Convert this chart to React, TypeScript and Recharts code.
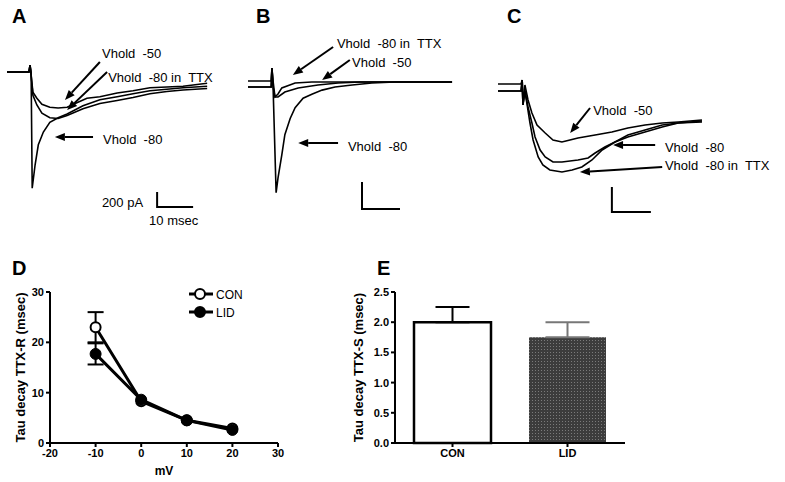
import React from 'react';
import {
  LineChart,
  Line,
  XAxis,
  YAxis,
  ReferenceLine,
  ReferenceDot,
  ErrorBar,
  BarChart,
  Bar,
  Cell,
} from 'recharts';

type Pt = [number, number];

// traces: [time (ms), current (pA)]
const traceA80: Pt[] = [
  [0, 0], [6.1, 0], [6.4, 90], [6.7, 0], [7.0, -1550], [7.8, -1240], [8.7, -970],
  [10.1, -800], [11.9, -670], [14.2, -610], [16.7, -560], [21.1, -450], [25.8, -370],
  [30.6, -330], [35, -290], [39.7, -250], [44.4, -230], [48.9, -210], [55.6, -190],
];
const traceA80ttx: Pt[] = [
  [0, 0], [6.1, 0], [6.4, 90], [6.7, -40], [7.2, -310], [8.3, -440], [9.7, -550],
  [11.9, -610], [14.2, -620], [16.7, -580], [21.1, -490], [25.8, -420], [30.6, -380],
  [35, -340], [39.7, -290], [44.4, -260], [48.9, -240], [55.6, -220],
];
const traceA50: Pt[] = [
  [0, 0], [6.1, 0], [6.4, 90], [6.7, -40], [7.2, -270], [8.3, -350], [9.7, -430],
  [11.9, -470], [14.2, -480], [16.7, -470], [19.4, -410], [22.2, -350], [25.8, -330],
  [30.6, -280], [35, -250], [39.7, -210], [44.4, -200], [48.9, -190], [55.6, -150],
];

const traceB80: Pt[] = [
  [0, -37], [6.1, -37], [6.3, 104], [6.6, -37], [7.4, -820], [7.9, -710], [8.9, -540],
  [9.7, -390], [11.1, -270], [12.4, -190], [14.5, -120], [16.8, -90], [19.5, -60],
  [22.9, -37], [27.4, -22], [32.6, -7], [38.7, 0], [53.7, 0],
];
const traceB80ttx: Pt[] = [
  [0, -37], [6.1, -37], [6.3, 104], [6.6, -37], [7.1, -111], [7.9, -89], [8.9, -44],
  [12.4, -7], [16.8, 0], [53.7, 0],
];
const traceB50: Pt[] = [
  [0, 7], [6.1, 7], [6.3, 104], [6.6, 7], [7.1, -111], [7.9, -111], [9.7, -74],
  [13.2, -44], [18.4, -22], [23.7, -7], [29.5, 0], [53.7, 0],
];

const traceC50: Pt[] = [
  [0, 0], [5.9, 0], [6.2, 32], [6.4, -168], [6.9, -8], [7.7, -128], [8.7, -232],
  [10, -328], [12.1, -392], [14.1, -448], [16.4, -464], [20.5, -432], [24.9, -408],
  [29.2, -384], [33.3, -352], [37.7, -328], [42.1, -312], [46.2, -304], [52.3, -288],
];
const traceC80: Pt[] = [
  [0, -56], [5.9, -56], [6.2, 32], [6.4, -168], [6.9, -56], [7.7, -184], [8.7, -312],
  [9.5, -424], [10.8, -528], [12.1, -584], [14.1, -624], [16.4, -624], [20.5, -608],
  [23.1, -592], [24.9, -552], [27.4, -504], [30, -464], [33.3, -424], [37.7, -384],
  [42.1, -344], [46.2, -312], [52.3, -304],
];
const traceC80ttx: Pt[] = [
  [0, -56], [5.9, -56], [6.2, 32], [6.4, -168], [6.9, -56], [7.4, -152], [8.2, -312],
  [9, -448], [10.3, -584], [11.5, -648], [13.3, -688], [16.4, -704], [19, -688],
  [21.5, -664], [24.1, -608], [26.7, -528], [30, -464], [33.3, -408], [37.7, -368],
  [42.1, -328], [46.2, -312], [52.3, -296],
];

// scale bars: corner (ms, pA) plus lengths
const scaleA = { t: 41.7, i: -1800, ms: 10, pA: 200 };
const scaleB = { t: 30, i: -941, ms: 10, pA: 200 };
const scaleC = { t: 29.2, i: -1024, ms: 10, pA: 200 };

type Note = { text: string; anchor?: 'start' | 'middle' | 'end'; at: Pt; from?: Pt; to?: Pt };

const notesA: Note[] = [
  { text: 'Vhold\u00a0 -50', at: [26.4, 253], from: [25.8, 133], to: [16.1, -373] },
  { text: 'Vhold\u00a0 -80 in\u00a0 TTX', at: [28.1, -67], from: [27.8, 0], to: [16.7, -507] },
  { text: 'Vhold\u00a0 -80', at: [26.7, -893], from: [23.9, -867], to: [13.3, -867] },
  { text: '200 pA', anchor: 'end', at: [37.8, -1733] },
  { text: '10 msec', anchor: 'middle', at: [46.3, -1973] },
];
const notesB: Note[] = [
  { text: 'Vhold\u00a0 -80 in\u00a0 TTX', at: [23.4, 289], from: [22.4, 259], to: [11.8, 52] },
  { text: 'Vhold\u00a0 -50', at: [27.4, 148], from: [26.8, 163], to: [19.5, 15] },
  { text: 'Vhold\u00a0 -80', at: [26.3, -474], from: [23.7, -452], to: [13.2, -452] },
];
const notesC: Note[] = [
  { text: 'Vhold\u00a0 -50', at: [24.4, -208], from: [23.6, -192], to: [18.5, -392] },
  { text: 'Vhold\u00a0 -80', at: [42.8, -504], from: [40.3, -488], to: [29.5, -488] },
  { text: 'Vhold\u00a0 -80 in\u00a0 TTX', at: [42.8, -648], from: [42.1, -664], to: [21, -704] },
];

// panel D
const mvSteps = [-10, 0, 10, 20];
const conTau = [23, 8.3, 4.5, 2.9];
const conErr = [3, null, null, null];
const lidTau = [17.7, 8.6, 4.5, 2.6];
const lidErr = [2.1, null, null, null];

// panel E
const groups = ['CON', 'LID'];
const tauS = [2.0, 1.75];
const tauSErr = [0.25, 0.25];

const FONT = "'Liberation Sans', Arial, sans-serif";

const toRows = (pts: Pt[]) => pts.map(([t, i]) => ({ t, i }));
const scaleRows = (s: { t: number; i: number; ms: number; pA: number }) => [
  { t: s.t, i: s.i + s.pA },
  { t: s.t, i: s.i },
  { t: s.t + s.ms, i: s.i },
];

const arrowShape = (p: any) => {
  const { x1, y1, x2, y2 } = p;
  const a = Math.atan2(y2 - y1, x2 - x1);
  const len = 10;
  const half = 4;
  const bx = x2 - len * Math.cos(a);
  const by = y2 - len * Math.sin(a);
  const px = half * Math.sin(a);
  const py = -half * Math.cos(a);
  return (
    <g>
      <line x1={x1} y1={y1} x2={bx} y2={by} stroke="#000" strokeWidth={2} />
      <polygon points={`${x2},${y2} ${bx + px},${by + py} ${bx - px},${by - py}`} fill="#000" />
    </g>
  );
};

function TracePanel(props: any) {
  const { left, top, width, height, margin, yDomain, traces, scale, notes } = props;
  return (
    <div style={{ position: 'absolute', left, top }}>
      <LineChart width={width} height={height} margin={margin} style={{ overflow: 'visible' }}>
        <XAxis type="number" dataKey="t" domain={[0, 60]} hide allowDataOverflow />
        <YAxis type="number" dataKey="i" domain={yDomain} hide allowDataOverflow />
        {traces.map((tr: Pt[], k: number) => (
          <Line
            key={k}
            data={toRows(tr)}
            dataKey="i"
            type="linear"
            stroke="#000"
            strokeWidth={1.6}
            dot={false}
            isAnimationActive={false}
          />
        ))}
        <Line
          data={scaleRows(scale)}
          dataKey="i"
          type="linear"
          stroke="#000"
          strokeWidth={2}
          dot={false}
          isAnimationActive={false}
        />
        {notes
          .filter((n: Note) => n.from && n.to)
          .map((n: Note, k: number) => (
            <ReferenceLine
              key={'a' + k}
              segment={[
                { x: n.from![0], y: n.from![1] },
                { x: n.to![0], y: n.to![1] },
              ]}
              ifOverflow="visible"
              shape={arrowShape}
            />
          ))}
        {notes.map((n: Note, k: number) => (
          <ReferenceDot
            key={'t' + k}
            x={n.at[0]}
            y={n.at[1]}
            ifOverflow="visible"
            shape={(p: any) => (
              <text
                x={p.cx}
                y={p.cy}
                dy="0.35em"
                textAnchor={n.anchor || 'start'}
                fontFamily={FONT}
                fontSize={13}
                fill="#000"
              >
                {n.text}
              </text>
            )}
          />
        ))}
      </LineChart>
    </div>
  );
}

const tickStyle = { fill: '#000', fontSize: 11, fontWeight: 'bold', fontFamily: FONT };
const axisStroke = { stroke: '#000', strokeWidth: 2 };
const titleStyle = { textAnchor: 'middle', fill: '#000', fontSize: 13, fontWeight: 'bold', fontFamily: FONT };

function PanelD() {
  const rows = mvSteps.map((mv, k) => ({
    mv,
    con: conTau[k],
    conErr: conErr[k],
    lid: lidTau[k],
    lidErr: lidErr[k],
  }));
  return (
    <div style={{ position: 'absolute', left: 0, top: 250 }}>
      <LineChart width={340} height={232} data={rows} margin={{ top: 42, right: 62, bottom: 7, left: 10 }}>
        <XAxis
          type="number"
          dataKey="mv"
          domain={[-20, 30]}
          ticks={[-20, -10, 0, 10, 20, 30]}
          axisLine={axisStroke}
          tickLine={axisStroke}
          tickSize={4}
          tick={tickStyle}
          height={32}
          label={{
            value: 'mV',
            position: 'insideBottom',
            offset: 0,
            style: { fill: '#000', fontSize: 12, fontWeight: 'bold', fontFamily: FONT },
          }}
        />
        <YAxis
          type="number"
          domain={[0, 30]}
          ticks={[0, 10, 20, 30]}
          width={40}
          axisLine={axisStroke}
          tickLine={axisStroke}
          tickSize={4}
          tick={tickStyle}
          label={{
            value: 'Tau decay TTX-R (msec)',
            angle: -90,
            position: 'insideLeft',
            offset: 10,
            style: titleStyle,
          }}
        />
        <Line
          dataKey="con"
          type="linear"
          stroke="#000"
          strokeWidth={3}
          dot={{ r: 5, fill: '#fff', stroke: '#000', strokeWidth: 2 }}
          isAnimationActive={false}
        >
          <ErrorBar dataKey="conErr" width={8} stroke="#000" strokeWidth={2} direction="y" />
        </Line>
        <Line
          dataKey="lid"
          type="linear"
          stroke="#000"
          strokeWidth={3}
          dot={{ r: 5.5, fill: '#000', stroke: '#000', strokeWidth: 1 }}
          isAnimationActive={false}
        >
          <ErrorBar dataKey="lidErr" width={8} stroke="#000" strokeWidth={2} direction="y" />
        </Line>
      </LineChart>
    </div>
  );
}

function PanelE() {
  const rows = groups.map((g, k) => ({
    g,
    v: tauS[k],
    errCon: k === 0 ? [0, tauSErr[k]] : null,
    errLid: k === 1 ? [0, tauSErr[k]] : null,
  }));
  return (
    <div style={{ position: 'absolute', left: 340, top: 250 }}>
      <BarChart width={310} height={232} data={rows} margin={{ top: 42, right: 25, bottom: 7, left: 15 }}>
        <defs>
          <pattern id="lidDots" width="3" height="3" patternUnits="userSpaceOnUse">
            <rect width="3" height="3" fill="#3c3c3c" />
            <rect width="1" height="1" fill="#7a7a7a" />
          </pattern>
        </defs>
        <XAxis
          dataKey="g"
          axisLine={axisStroke}
          tickLine={axisStroke}
          tickSize={4}
          tick={tickStyle}
          height={32}
        />
        <YAxis
          type="number"
          domain={[0, 2.5]}
          ticks={[0, 0.5, 1, 1.5, 2, 2.5]}
          tickFormatter={(v: number) => v.toFixed(1)}
          width={40}
          axisLine={axisStroke}
          tickLine={axisStroke}
          tickSize={4}
          tick={tickStyle}
          label={{
            value: 'Tau decay TTX-S (msec)',
            angle: -90,
            position: 'insideLeft',
            offset: 3,
            style: titleStyle,
          }}
        />
        <Bar dataKey="v" barSize={77} isAnimationActive={false}>
          {rows.map((r, k) => (
            <Cell
              key={r.g}
              fill={k === 0 ? '#fff' : 'url(#lidDots)'}
              stroke={k === 0 ? '#000' : 'none'}
              strokeWidth={k === 0 ? 2.5 : 0}
            />
          ))}
          <ErrorBar dataKey="errCon" width={17} stroke="#000" strokeWidth={2} direction="y" />
          <ErrorBar dataKey="errLid" width={22} stroke="#777" strokeWidth={2} direction="y" />
        </Bar>
      </BarChart>
    </div>
  );
}

const legendD = [
  { name: 'CON', fill: '#fff' },
  { name: 'LID', fill: '#000' },
];

export default function App() {
  return (
    <div
      style={{
        position: 'relative',
        width: 785,
        height: 482,
        background: '#fff',
        fontFamily: FONT,
        overflow: 'hidden',
      }}
    >
      <style>{'body{margin:0}'}</style>
      <TracePanel
        left={0}
        top={30}
        width={240}
        height={200}
        margin={{ top: 19.5, right: 17, bottom: 8, left: 7 }}
        yDomain={[-2000, 300]}
        traces={[traceA80, traceA80ttx, traceA50]}
        scale={scaleA}
        notes={notesA}
      />
      <TracePanel
        left={240}
        top={30}
        width={250}
        height={200}
        margin={{ top: 25, right: 14, bottom: 13, left: 8 }}
        yDomain={[-1000, 200]}
        traces={[traceB80, traceB80ttx, traceB50]}
        scale={scaleB}
        notes={notesB}
      />
      <TracePanel
        left={490}
        top={30}
        width={295}
        height={210}
        margin={{ top: 41.5, right: 53, bottom: 6, left: 8 }}
        yDomain={[-1200, 100]}
        traces={[traceC50, traceC80, traceC80ttx]}
        scale={scaleC}
        notes={notesC}
      />
      <PanelD />
      <PanelE />
      <svg
        width={785}
        height={482}
        style={{ position: 'absolute', left: 0, top: 0, pointerEvents: 'none' }}
        fontFamily={FONT}
      >
        <text x={12} y={23} fontSize={20} fontWeight="bold">A</text>
        <text x={256} y={23} fontSize={20} fontWeight="bold">B</text>
        <text x={507} y={23} fontSize={20} fontWeight="bold">C</text>
        <text x={12} y={275} fontSize={20} fontWeight="bold">D</text>
        <text x={377} y={275} fontSize={20} fontWeight="bold">E</text>
        {legendD.map((s, k) => (
          <g key={s.name}>
            <line x1={189} x2={213} y1={294 + k * 18} y2={294 + k * 18} stroke="#000" strokeWidth={3} />
            <circle cx={200} cy={294 + k * 18} r={5} fill={s.fill} stroke="#000" strokeWidth={2} />
            <text x={216} y={298.5 + k * 18} fontSize={12}>
              {s.name}
            </text>
          </g>
        ))}
      </svg>
    </div>
  );
}
